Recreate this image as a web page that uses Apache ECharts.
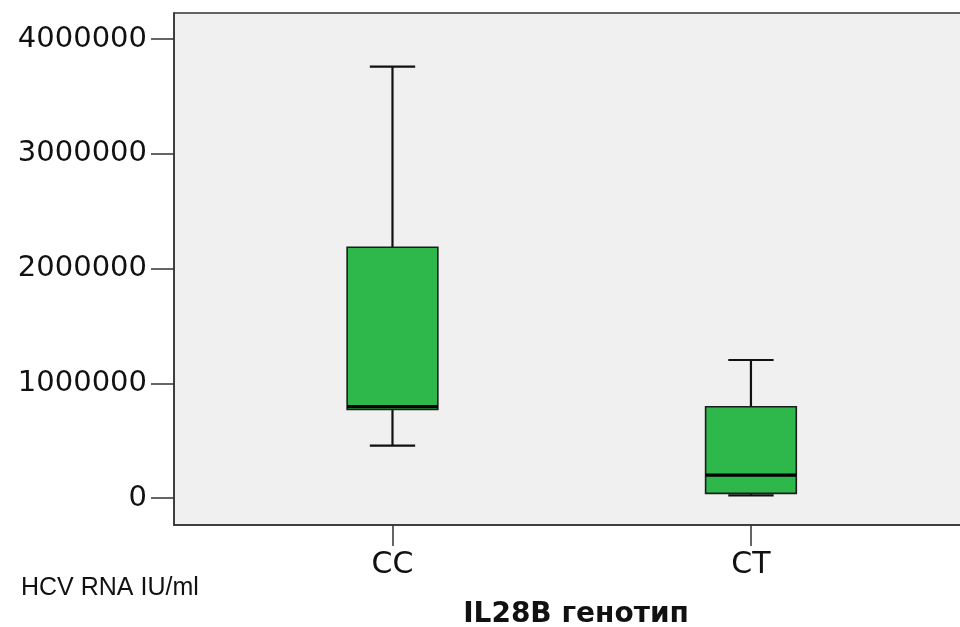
<!DOCTYPE html>
<html>
<head>
<meta charset="utf-8">
<script src="https://cdn.jsdelivr.net/npm/echarts@6/dist/echarts.min.js"></script>
<style>
  html, body { margin: 0; padding: 0; background: #ffffff; }
  #chart { width: 960px; height: 627px; }
</style>
</head>
<body>
<div id="chart"></div>
<script>
// HCV RNA viral load by IL28B genotype (box-and-whisker summary)
const categories = ['CC', 'CT'];
const lowerWhisker = [456000, 23000];
const q1 = [771000, 41000];
const median = [797000, 200000];
const q3 = [2185000, 796000];
const upperWhisker = [3759000, 1203000];
const yTicks = [0, 1000000, 2000000, 3000000, 4000000];
const xTicks = [0, 1];

// axis extents: groups sit at x = 0 and x = 1, plot frame runs past the right edge
const yMin = -235000;
const yMax = 4227000;
const xMin = -0.6095;
const xMax = 1.639;

const boxData = categories.map((c, i) => [i, lowerWhisker[i], q1[i], median[i], q3[i], upperWhisker[i]]);

const chart = echarts.init(document.getElementById('chart'), null, { renderer: 'canvas' });

function renderBox(params, api) {
  const idx = api.value(0);
  const unit = api.size([1, 0])[0];
  const boxW = unit * 0.253;
  const capW = boxW * 0.5;
  const x = api.coord([idx, 0])[0];
  const y = v => api.coord([idx, v])[1];
  const yLow = y(api.value(1));
  const yQ1 = y(api.value(2));
  const yMed = y(api.value(3));
  const yQ3 = y(api.value(4));
  const yHigh = y(api.value(5));
  const whisker = { stroke: '#111111', lineWidth: 2.2 };
  return {
    type: 'group',
    children: [
      { type: 'line', shape: { x1: x, y1: yHigh, x2: x, y2: yQ3 }, style: whisker },
      { type: 'line', shape: { x1: x, y1: yQ1, x2: x, y2: yLow }, style: whisker },
      { type: 'line', shape: { x1: x - capW / 2, y1: yHigh, x2: x + capW / 2, y2: yHigh }, style: whisker },
      { type: 'line', shape: { x1: x - capW / 2, y1: yLow, x2: x + capW / 2, y2: yLow }, style: whisker },
      {
        type: 'rect',
        shape: { x: x - boxW / 2, y: yQ3, width: boxW, height: yQ1 - yQ3 },
        style: { fill: '#2eb84b', stroke: '#1c1c1c', lineWidth: 1.6 }
      },
      { type: 'line', shape: { x1: x - boxW / 2, y1: yMed, x2: x + boxW / 2, y2: yMed }, style: { stroke: '#000000', lineWidth: 3.4 } }
    ]
  };
}

chart.setOption({
  animation: false,
  backgroundColor: '#ffffff',
  title: [
    {
      text: 'HCV RNA IU/ml',
      left: 16,
      top: 571,
      textStyle: { fontFamily: 'Liberation Sans', fontWeight: 'normal', fontSize: 25, color: '#111111' }
    },
    {
      text: 'IL28B генотип',
      left: 571,
      top: 596,
      textAlign: 'center',
      textStyle: { fontFamily: 'DejaVu Sans', fontWeight: 'bold', fontSize: 28, color: '#111111' }
    }
  ],
  grid: {
    left: 174, top: 13, right: -20, bottom: 102,
    outerBoundsMode: 'none',
    containLabel: false,
    show: true, backgroundColor: '#f0f0f0', borderColor: '#333333', borderWidth: 1.5
  },
  xAxis: {
    type: 'value', min: xMin, max: xMax,
    axisLine: { show: true, onZero: false, lineStyle: { color: '#333333', width: 1.5 } },
    axisTick: { show: true, customValues: xTicks, length: 21, lineStyle: { color: '#333333', width: 1.5 } },
    axisLabel: {
      customValues: xTicks, margin: 25,
      formatter: v => categories[Math.round(v)],
      fontFamily: 'DejaVu Sans', fontSize: 30, color: '#111111'
    },
    splitLine: { show: false }
  },
  yAxis: {
    type: 'value', min: yMin, max: yMax,
    axisLine: { show: true, onZero: false, lineStyle: { color: '#333333', width: 1.5 } },
    axisTick: { show: true, customValues: yTicks, length: 23, lineStyle: { color: '#333333', width: 1.5 } },
    axisLabel: {
      customValues: yTicks, margin: 27,
      formatter: v => String(v),
      fontFamily: 'DejaVu Sans', fontSize: 29, color: '#111111'
    },
    splitLine: { show: false }
  },
  series: [
    {
      type: 'custom',
      renderItem: renderBox,
      encode: { x: 0, y: [1, 2, 3, 4, 5] },
      data: boxData,
      clip: false
    }
  ]
});
</script>
</body>
</html>
